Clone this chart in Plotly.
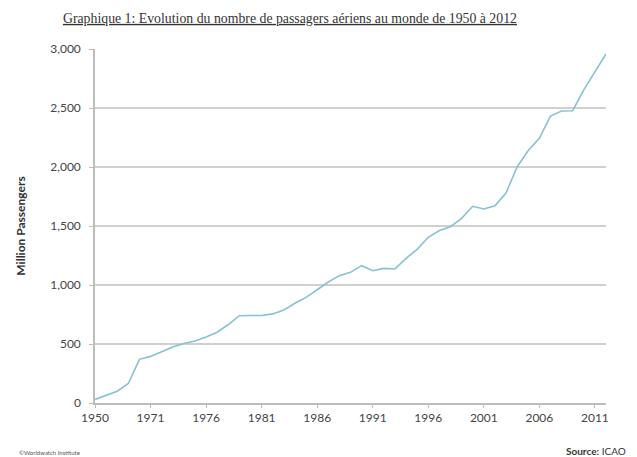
import plotly.graph_objects as go

years = ["1950", "1955", "1960", "1965", "1970"] + [str(y) for y in range(1971, 2013)]
passengers = [30, 65, 100, 165, 370,
              395, 435, 475, 505, 525, 560, 600, 665, 740, 742,
              742, 755, 788, 845, 895, 960, 1025, 1079, 1107, 1164,
              1121, 1141, 1136, 1226, 1302, 1404, 1462, 1494, 1565, 1667,
              1644, 1672, 1780, 2000, 2140, 2243, 2432, 2475, 2477, 2653,
              2808, 2958]
tick_years = years[::5]
y_ticks = [0, 500, 1000, 1500, 2000, 2500, 3000]

fig = go.Figure()
fig.add_trace(go.Scatter(x=years, y=passengers, mode="lines",
                         line=dict(color="#86c2d3", width=1.6), hoverinfo="skip"))

axis_font = dict(family="Lato, Open Sans, sans-serif", size=12, color="#444444")
fig.update_layout(
    width=637, height=457,
    margin=dict(l=79, r=39, t=41, b=62),
    paper_bgcolor="white", plot_bgcolor="white",
    showlegend=False,
    title=dict(text="<u>Graphique 1: Evolution du nombre de passagers aériens au monde de 1950 à 2012</u>",
               xref="paper", x=0.3815, xanchor="center", y=0.978, yanchor="middle",
               font=dict(family="Liberation Serif, serif", size=13.8, color="#333333")),
    xaxis=dict(type="category", range=[0, 46], tickmode="array", tickvals=tick_years,
               ticktext=tick_years, showgrid=False, showline=True, linecolor="#bdbdbd",
               linewidth=1.5, ticks="outside", ticklen=3, tickcolor="#bdbdbd",
               tickfont=axis_font, zeroline=False),
    yaxis=dict(range=[0, 3000], tickmode="array", tickvals=y_ticks, tickformat=",d",
               showgrid=True, gridcolor="#d0d0d0", gridwidth=1.5,
               showline=True, linecolor="#bdbdbd", linewidth=1.5,
               ticks="outside", ticklen=4, tickcolor="#bdbdbd",
               tickfont=axis_font, zeroline=False, ticklabelstandoff=6,
               title=dict(text="<b>Million Passengers</b>", standoff=22,
                          font=dict(family="Lato, Open Sans, sans-serif", size=12, color="#333333"))),
    annotations=[
        dict(text="<b>Source:</b> ICAO", xref="paper", yref="paper", x=1.044, y=-0.136,
             xanchor="right", yanchor="middle", showarrow=False,
             font=dict(family="Lato, Open Sans, sans-serif", size=10, color="#333333")),
        dict(text="©Worldwatch Institute", xref="paper", yref="paper", x=-0.152, y=-0.141,
             xanchor="left", yanchor="middle", showarrow=False,
             font=dict(family="Lato, sans-serif", size=6, color="#555555")),
    ],
)

fig.write_html("out.html")
